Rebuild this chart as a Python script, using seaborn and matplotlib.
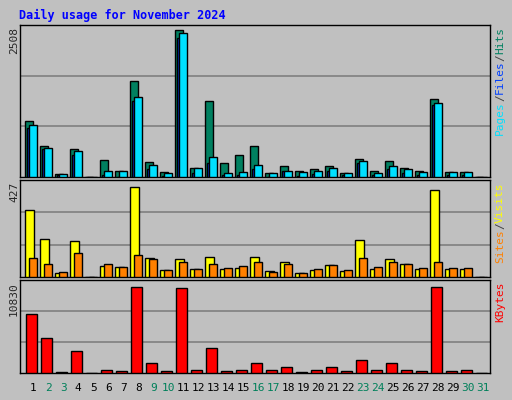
import matplotlib
matplotlib.use("Agg")
import matplotlib.pyplot as plt
import seaborn as sns
import numpy as np

days = list(range(1, 32))
hits = [923,514,55,464,0,284,104,1579,251,87,2430,153,1251,235,366,514,71,186,104,137,186,71,300,104,268,153,104,1284,87,87,0]
files = [809,464,33,366,0,33,0,1251,137,16,2300,71,235,33,33,137,5,104,16,55,104,33,235,33,137,71,33,1186,33,33,0]
pages = [858,481,55,432,0,104,104,1317,202,71,2382,153,333,71,87,202,71,104,87,104,153,71,268,71,186,137,87,1218,87,87,0]
visits = [293,168,17,160,0,47,43,397,82,30,78,35,86,35,39,86,26,65,17,30,52,26,164,35,78,56,35,384,35,35,0]
sites = [82,56,22,104,0,56,43,95,78,30,65,35,56,39,47,65,22,56,17,35,52,30,82,43,65,56,39,65,39,39,0]
kbytes = [6820,4085,146,2550,0,365,255,9990,1130,255,9880,365,2880,255,365,1130,365,693,146,365,693,255,1568,365,1130,365,255,9990,255,365,0]
max_labels = ["2508", "427", "10830"]
weekend = {2,3,9,10,16,17,23,24,30,31}

sns.set_style("white")
plt.rcParams['font.family'] = ['DejaVu Sans Mono', 'DejaVu Sans']
BG = "#C0C0C0"
fig = plt.figure(figsize=(5.12, 4.0), dpi=100, facecolor=BG)
fig.text(19/512, 1-15/400, "Daily usage for November 2024", color="#0000FF",
         fontsize=8.5, fontweight="bold", va="center", ha="left")

W, H = 512, 400
def mkax(top, bot):
    ax = fig.add_axes([20/W, 1-bot/H, 470/W, (bot-top)/H])
    ax.set_facecolor(BG)
    for s in ax.spines.values():
        s.set_color("black"); s.set_linewidth(1)
    ax.set_xlim(0.67, 32.0)
    ax.set_xticks([]); ax.set_yticks([])
    return ax

x = np.array(days, dtype=float)
ek = dict(edgecolor="black", linewidth=1, align="edge", zorder=3)

def grid(ax, ymax):
    for f in (1/3, 2/3):
        ax.axhline(ymax*f, color="#808080", lw=1.2, zorder=1)
    ax.set_ylim(0, ymax)

ax1 = mkax(25, 177)
grid(ax1, 2508)
ax1.bar(x, hits, width=0.51, color="#008060", **ek)
ax1.bar(x+0.16, files, width=0.13, color="#0040FF", **ek)
ax1.bar(x+0.27, pages, width=0.51, color="#00E0FF", **ek)

ax2 = mkax(180, 277)
grid(ax2, 427)
ax2.bar(x, visits, width=0.58, color="#FFFF00", **ek)
ax2.bar(x+0.27, sites, width=0.51, color="#FF8000", **ek)

ax3 = mkax(280, 373)
grid(ax3, 10830)
ax3.bar(x+0.07, kbytes, width=0.71, color="#FF0000", **ek)

for d in days:
    fig.text((20 + (d + 0.55 - 0.67) * 15) / W, 1-388/H, str(d), ha="center", va="center",
             fontsize=8, color="#00805A" if d in weekend else "black")

for lab, (top, bot) in zip(max_labels, [(25,177),(180,277),(280,373)]):
    fig.text(14/W, 1-(top+2)/H, lab, rotation=90, ha="center", va="top", fontsize=8)

def rlabel(parts, top):
    y = 1-(top+2)/H
    for txt, col in parts:
        t = fig.text(500/W, y, txt, rotation=90, ha="center", va="top", fontsize=8, color=col)
        fig.canvas.draw()
        bb = t.get_window_extent()
        y -= bb.height / H
rlabel([("Hits","#008060"),("/","#404040"),("Files","#0040FF"),("/","#404040"),("Pages","#00E0FF")], 25)
rlabel([("Visits","#FFFF00"),("/","#404040"),("Sites","#FF8000")], 180)
rlabel([("KBytes","#FF0000")], 280)

fig.savefig("out.png", dpi=100, facecolor=BG)
